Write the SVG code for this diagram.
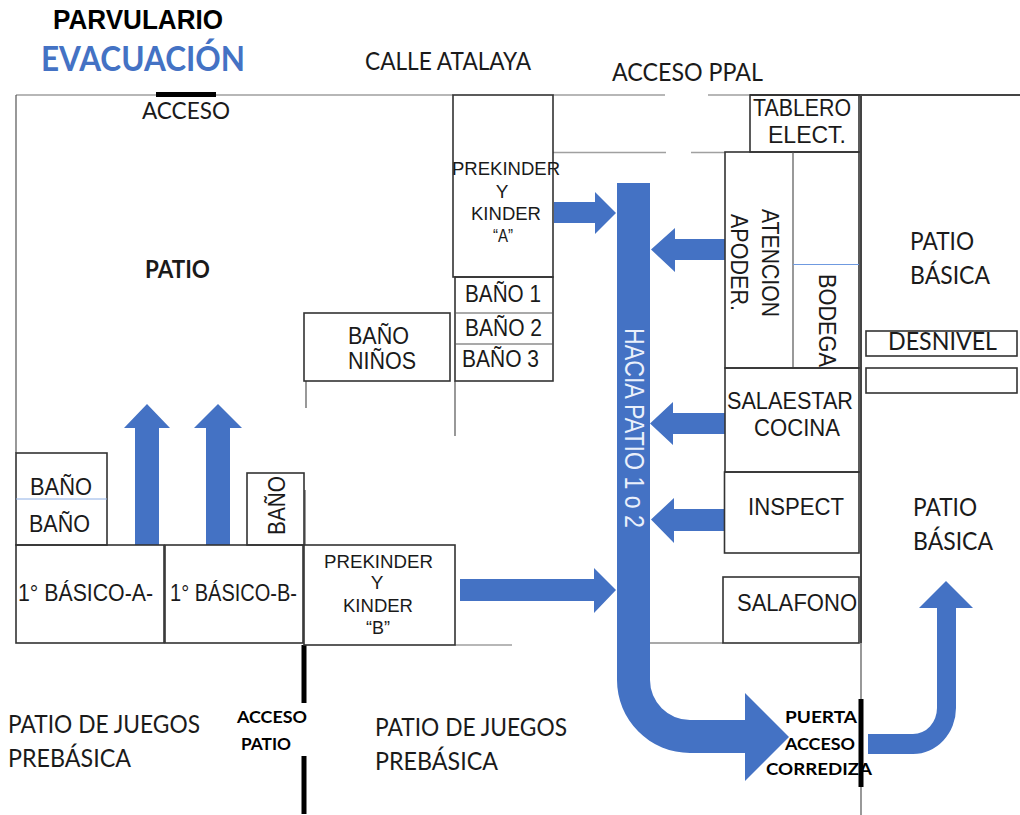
<svg xmlns="http://www.w3.org/2000/svg" width="1020" height="815" viewBox="0 0 1020 815">
<style>
text{fill:#1a1a1a;white-space:pre}
.a{font-family:"Liberation Sans",Arial,sans-serif}
.l{font-family:Lato,"Open Sans",sans-serif}
.b{font-weight:700}
.s17{font-size:17px}.s18{font-size:19px}.s21{font-size:23px}.s22{font-size:23px}.s25{font-size:25px}
.tight{word-spacing:-5px}
.box{fill:none;stroke:#333;stroke-width:1.6}
.thin{fill:none;stroke:#555;stroke-width:1.2}
.gray{fill:none;stroke:#a0a0a0;stroke-width:1.6}
.heavy{fill:none;stroke:#444;stroke-width:2}
.door{fill:none;stroke:#000;stroke-width:5}
.flow{fill:#4472c4;stroke:none}
</style>
<rect width="1020" height="815" fill="#fff"/>
<g id="walls">
<path class="gray" d="M16 95H453M553 95H665M708 95H750M553 152.500H666M691 152.500H725M455 645H512"/>
<path class="heavy" d="M750 95H1020M861 95V643"/>
<path class="thin" d="M16 95V453M306 381V408M455 381V436M305 490V545M650 643H723M861 643V815"/>
<path class="door" d="M156 94.500H216M304 645V703M304 756V814M861 699V787"/>
</g>
<g id="connectors">
<path class="flow" d="M135 545V428H124L147 404L170 428H159V545Z"/>
<path class="flow" d="M206 545V428H194L218 404L242 428H230V545Z"/>
<path class="flow" d="M554 202H595V192L616 213L595 234V223H554Z"/>
<path class="flow" d="M725 239H675V228L651 249.500L675 272V260H725Z"/>
<path class="flow" d="M725 413H673V402L650 423.500L673 445V434H725Z"/>
<path class="flow" d="M724 509H674V498L651 519.500L674 543V531H724Z"/>
<path class="flow" d="M460 579H594V568L616 590L594 613V601H460Z"/>
<path class="flow" d="M617 183H650V680A40 40 0 0 0 690 720H745V693L789 737L745 781V753H690A73 73 0 0 1 617 680Z"/>
<path class="flow" d="M868 734H913A24 26 0 0 0 937 708V608H919L946 581L973 608H956V708A43 46 0 0 1 913 754H868Z"/>
</g>
<g id="title">
<text class="a b" x="53" y="29" font-size="27" textLength="170" lengthAdjust="spacingAndGlyphs" style="fill:#000">PARVULARIO</text>
<text class="l b" x="41" y="71" font-size="34" textLength="204" lengthAdjust="spacingAndGlyphs" style="fill:#4472c4">EVACUACIÓN</text>
</g>
<g id="labels">
<text class="l s25" x="365" y="70" textLength="166" lengthAdjust="spacingAndGlyphs">CALLE ATALAYA</text>
<text class="l s25" x="612" y="81" textLength="151" lengthAdjust="spacingAndGlyphs">ACCESO PPAL</text>
<text class="l" font-size="24" x="142" y="119" textLength="88" lengthAdjust="spacingAndGlyphs">ACCESO</text>
<text class="l b" font-size="24" x="145" y="278" textLength="65" lengthAdjust="spacingAndGlyphs">PATIO</text>
<text class="l s25" x="8" y="733" textLength="192" lengthAdjust="spacingAndGlyphs">PATIO DE JUEGOS</text>
<text class="l s25" x="8" y="767" textLength="123" lengthAdjust="spacingAndGlyphs">PREBÁSICA</text>
<text class="l s25" x="375" y="736" textLength="192" lengthAdjust="spacingAndGlyphs">PATIO DE JUEGOS</text>
<text class="l s25" x="375" y="770" textLength="123" lengthAdjust="spacingAndGlyphs">PREBÁSICA</text>
<text class="l b s17" x="237" y="723" textLength="70" lengthAdjust="spacingAndGlyphs" style="fill:#000">ACCESO</text>
<text class="l b s17" x="241" y="750" textLength="50" lengthAdjust="spacingAndGlyphs" style="fill:#000">PATIO</text>
<text class="l s25" x="910" y="250" textLength="64" lengthAdjust="spacingAndGlyphs">PATIO</text>
<text class="l s25" x="910" y="284" textLength="80" lengthAdjust="spacingAndGlyphs">BÁSICA</text>
<text class="l s25" x="913" y="516" textLength="64" lengthAdjust="spacingAndGlyphs">PATIO</text>
<text class="l s25" x="913" y="550" textLength="80" lengthAdjust="spacingAndGlyphs">BÁSICA</text>
<text class="a" font-size="27" transform="translate(625 328) rotate(90)" textLength="200" lengthAdjust="spacingAndGlyphs" style="fill:#eaf0fb">HACIA PATIO 1 o 2</text>
<text class="l b s17" x="785" y="723" textLength="72" lengthAdjust="spacingAndGlyphs" style="fill:#000">PUERTA</text>
<text class="l b s17" x="785" y="750" textLength="70" lengthAdjust="spacingAndGlyphs" style="fill:#000">ACCESO</text>
<text class="l b s17" x="766" y="775" textLength="106" lengthAdjust="spacingAndGlyphs" style="fill:#000">CORREDIZA</text>
</g>
<g id="prekinder-a">
<rect class="box" x="453" y="95" width="100" height="182"/>
<text class="a s18" x="452" y="175" textLength="108" lengthAdjust="spacingAndGlyphs">PREKINDER</text>
<text class="a s18" x="502" y="198" text-anchor="middle">Y</text>
<text class="a s18" x="471" y="220" textLength="70" lengthAdjust="spacingAndGlyphs">KINDER</text>
<text class="a s18" x="493" y="242" textLength="20" lengthAdjust="spacingAndGlyphs">“A”</text>
</g>
<g id="banos-1-3">
<rect class="box" x="455" y="277" width="98" height="104"/>
<path class="thin" d="M455 313H553M455 344H553"/>
<text class="a s21" x="465" y="302" textLength="76" lengthAdjust="spacingAndGlyphs">BAÑO 1</text>
<text class="a s21" x="465" y="336" textLength="77" lengthAdjust="spacingAndGlyphs">BAÑO 2</text>
<text class="a s21" x="462" y="367" textLength="77" lengthAdjust="spacingAndGlyphs">BAÑO 3</text>
</g>
<g id="bano-ninos">
<rect class="box" x="304" y="313" width="146" height="68"/>
<text class="a s22" x="348" y="344" textLength="61" lengthAdjust="spacingAndGlyphs">BAÑO</text>
<text class="a s22" x="348" y="369" textLength="68" lengthAdjust="spacingAndGlyphs">NIÑOS</text>
</g>
<g id="tablero">
<rect class="box" x="750" y="95" width="109" height="57"/>
<text class="a s22" x="753" y="116" textLength="98" lengthAdjust="spacingAndGlyphs">TABLERO</text>
<text class="a s22" x="768" y="143" textLength="78" lengthAdjust="spacingAndGlyphs">ELECT.</text>
</g>
<g id="atencion">
<rect class="box" x="725" y="152" width="134" height="216"/>
<path class="thin" d="M793 152V368"/>
<path fill="none" stroke="#6f9ae0" stroke-width="1" d="M793 264.500H859"/>
<text class="a s21" transform="translate(762 209) rotate(90)" textLength="108" lengthAdjust="spacingAndGlyphs">ATENCION</text>
<text class="a s21" transform="translate(731 214) rotate(90)" textLength="97" lengthAdjust="spacingAndGlyphs">APODER.</text>
<text class="a s21" transform="translate(819 274) rotate(90)" textLength="93" lengthAdjust="spacingAndGlyphs">BODEGA</text>
</g>
<g id="sala-estar">
<rect class="box" x="725" y="368" width="134" height="104"/>
<text class="a s21 tight" x="727" y="409" textLength="126" lengthAdjust="spacingAndGlyphs">SALA ESTAR</text>
<text class="a s21" x="754" y="436" textLength="86" lengthAdjust="spacingAndGlyphs">COCINA</text>
</g>
<g id="inspect">
<rect class="box" x="724.500" y="472" width="134.500" height="81"/>
<text class="a s21" x="748" y="515" textLength="96" lengthAdjust="spacingAndGlyphs">INSPECT</text>
</g>
<g id="sala-fono">
<rect class="box" x="723" y="577" width="136" height="66"/>
<text class="a s21 tight" x="737" y="611" textLength="120" lengthAdjust="spacingAndGlyphs">SALA FONO</text>
</g>
<g id="desnivel">
<rect class="box" x="866" y="331" width="151" height="25"/>
<text class="l s25" x="888" y="350" textLength="109" lengthAdjust="spacingAndGlyphs">DESNIVEL</text>
</g>
<g id="desnivel-2">
<rect class="box" x="866" y="368" width="151" height="25"/>
</g>
<g id="banos-izq">
<rect class="box" x="16" y="453" width="91" height="92"/>
<path fill="none" stroke="#8fb0e6" stroke-width="1" d="M16 499H107"/>
<text class="a s22" x="30" y="495" textLength="62" lengthAdjust="spacingAndGlyphs">BAÑO</text>
<text class="a s22" x="29" y="532" textLength="61" lengthAdjust="spacingAndGlyphs">BAÑO</text>
</g>
<g id="primero-a">
<rect class="box" x="16" y="545" width="148" height="98"/>
<text class="a s21" x="18" y="601" textLength="135" lengthAdjust="spacingAndGlyphs">1° BÁSICO-A-</text>
</g>
<g id="primero-b">
<rect class="box" x="165" y="545" width="138" height="98"/>
<text class="a s21" x="170" y="601" textLength="127" lengthAdjust="spacingAndGlyphs">1° BÁSICO-B-</text>
</g>
<g id="bano-b">
<rect class="box" x="247" y="473" width="57" height="72"/>
<text class="a s21" transform="translate(285 535) rotate(-90)" textLength="59" lengthAdjust="spacingAndGlyphs">BAÑO</text>
</g>
<g id="prekinder-b">
<rect class="box" x="304" y="545" width="151" height="100"/>
<text class="a s18" x="324" y="568" textLength="109" lengthAdjust="spacingAndGlyphs">PREKINDER</text>
<text class="a s18" x="377" y="589" text-anchor="middle">Y</text>
<text class="a s18" x="343" y="612" textLength="70" lengthAdjust="spacingAndGlyphs">KINDER</text>
<text class="a s18" x="366" y="634" textLength="24" lengthAdjust="spacingAndGlyphs">“B”</text>
</g>
</svg>
